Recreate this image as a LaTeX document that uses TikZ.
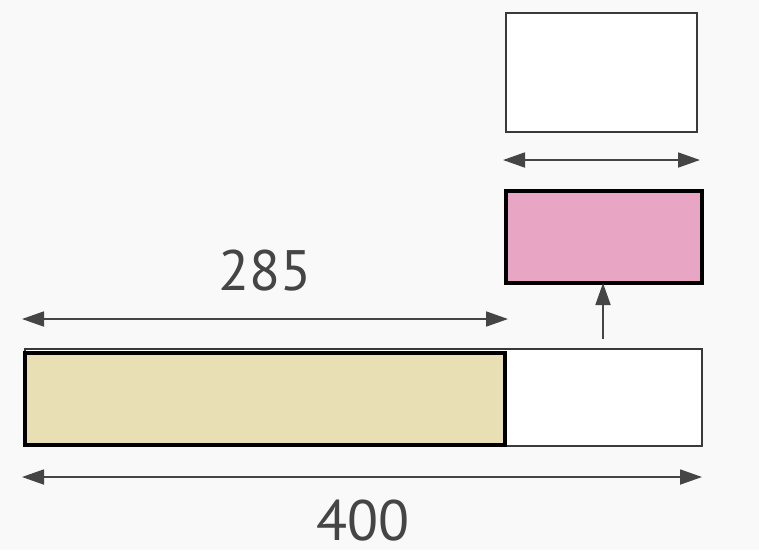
\documentclass[tikz,border=0pt]{standalone}
\usepackage{fontspec}
\setmainfont{PT Sans}
\usetikzlibrary{arrows.meta}
\definecolor{bg}{HTML}{F8F9F8}
\definecolor{dimgray}{HTML}{454545}
\definecolor{boxgray}{HTML}{3A3A3A}
\definecolor{pinkfill}{HTML}{E8A5C4}
\definecolor{creamfill}{HTML}{E8DFB5}
\begin{document}
\begin{tikzpicture}[x=1pt,y=-1pt,
  dimline/.style={draw=dimgray, line width=1.8pt,
    {Triangle[length=22pt,width=15pt]}-{Triangle[length=22pt,width=15pt]}},
  uparrow/.style={draw=dimgray, line width=1.8pt, -{Triangle[length=22pt,width=15pt]}},
  thinbox/.style={draw=boxgray, line width=2pt, inner sep=0pt, outer sep=0pt, fill=white},
  thickbox/.style={draw=black, line width=3.5pt, inner sep=0pt, outer sep=0pt},
  numlabel/.style={text=dimgray, font=\fontsize{57}{60}\selectfont, inner sep=0pt}]
\fill[bg] (0,0) rectangle (759,550);
\useasboundingbox (0,0) rectangle (759,550);
% boxes
\node[thinbox, minimum width=191pt, minimum height=119pt] (top) at (601.5,72.5) {};
\node[thickbox, fill=pinkfill, minimum width=196pt, minimum height=92pt] (pink) at (604,237) {};
\node[thinbox, minimum width=677pt, minimum height=97pt] (whole) at (363.5,397.5) {};
\node[thickbox, fill=creamfill, minimum width=480pt, minimum height=92pt] (part) at (265,399) {};
% dimension coordinates
\coordinate (tl) at (503,160);
\coordinate (tr) at (700,160);
\coordinate (al) at (22,319);
\coordinate (ar) at (508,319);
\coordinate (bl) at (22,477);
\coordinate (br) at (702,477);
\coordinate (up) at (603,339);
\draw[dimline] (tl) -- (tr);
\draw[dimline] (al) -- (ar);
\draw[dimline] (bl) -- (br);
\draw[uparrow] (up) -- (up |- pink.south);
% labels
\node[numlabel] (l285) at (265,271) {285};
\node[numlabel] (l400) at (363,521) {400};
\end{tikzpicture}
\end{document}
